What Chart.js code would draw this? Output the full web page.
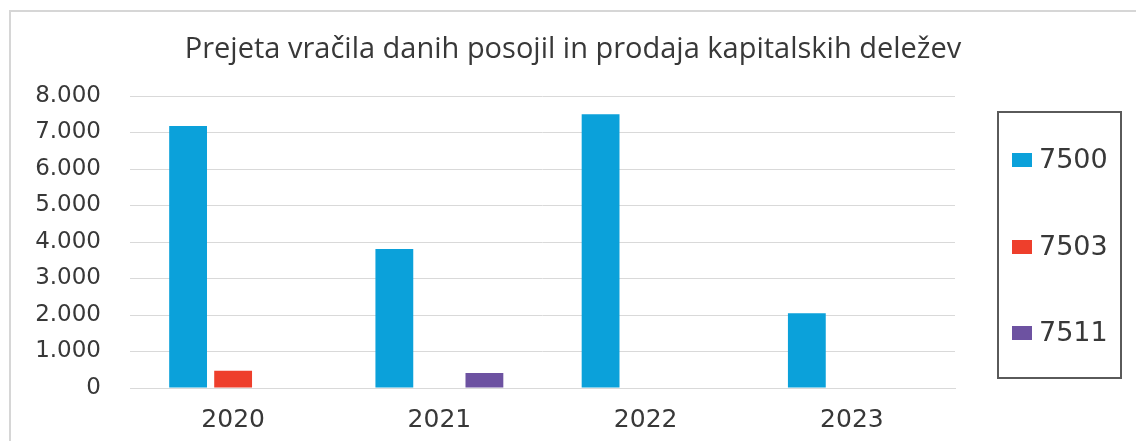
<!DOCTYPE html>
<html>
<head>
<meta charset="utf-8">
<script src="https://cdn.jsdelivr.net/npm/chart.js@4"></script>
<style>
  html, body { margin: 0; padding: 0; background: #fff; }
  #wrap { width: 1136px; height: 441px; position: relative; }
</style>
</head>
<body>
<div id="wrap"><canvas id="chart"></canvas></div>
<script>
// podatki
const naslov = 'Prejeta vračila danih posojil in prodaja kapitalskih deležev';
const leta = ['2020', '2021', '2022', '2023'];
const konto7500 = [7180, 3810, 7500, 2050];
const konto7503 = [470, 0, 0, 0];
const konto7511 = [0, 410, 0, 0];
const oznakeSerij = ['7500', '7503', '7511'];
const barve = ['#0ba1da', '#ee3f2c', '#6d52a1'];

const textColor = '#383838';
const gridColor = '#d9d9d9';

// okvir grafikona, naslov in legenda desno
const okvirPlugin = {
  id: 'okvir',
  beforeDraw(chart) {
    const ctx = chart.ctx;
    ctx.save();
    ctx.strokeStyle = '#d6d6d6';
    ctx.lineWidth = 2;
    ctx.strokeRect(10, 11, 1300, 600);
    ctx.restore();
  },
  afterDraw(chart) {
    const ctx = chart.ctx;
    ctx.save();
    // naslov
    ctx.fillStyle = textColor;
    ctx.font = '29px "Open Sans"';
    ctx.textAlign = 'center';
    ctx.textBaseline = 'alphabetic';
    ctx.fillText(naslov, 573, 58);

    // legenda
    ctx.strokeStyle = '#5a5a5a';
    ctx.lineWidth = 2;
    ctx.strokeRect(998, 112, 123, 266);
    const ys = [160, 247, 333];
    ctx.textAlign = 'left';
    ctx.textBaseline = 'middle';
    ctx.font = '27px "DejaVu Sans"';
    chart.data.datasets.forEach((ds, i) => {
      ctx.fillStyle = ds.backgroundColor;
      ctx.fillRect(1012, ys[i] - 7, 20, 14);
      ctx.fillStyle = textColor;
      ctx.fillText(ds.label, 1039, ys[i] + 1);
    });
    ctx.restore();
  }
};

const ctx = document.getElementById('chart').getContext('2d');
new Chart(ctx, {
  type: 'bar',
  data: {
    labels: leta,
    datasets: [
      { label: oznakeSerij[0], data: konto7500, backgroundColor: barve[0] },
      { label: oznakeSerij[1], data: konto7503, backgroundColor: barve[1] },
      { label: oznakeSerij[2], data: konto7511, backgroundColor: barve[2] }
    ]
  },
  options: {
    responsive: true,
    maintainAspectRatio: false,
    animation: false,
    layout: { padding: { left: 20, right: 181, top: 96, bottom: 0 } },
    datasets: {
      bar: { categoryPercentage: 0.655, barPercentage: 0.84 }
    },
    scales: {
      x: {
        grid: { display: false, drawTicks: false },
        border: { display: true, color: gridColor, width: 1 },
        ticks: {
          color: textColor,
          font: { family: 'DejaVu Sans', size: 25 },
          padding: 17
        },
        afterFit(scale) { scale.height = 53; }
      },
      y: {
        min: 0,
        max: 8000,
        grid: { color: gridColor, drawTicks: false },
        border: { display: false },
        ticks: {
          stepSize: 1000,
          color: textColor,
          padding: 29,
          font: { family: 'DejaVu Sans', size: 23 },
          callback: v => v === 0 ? '0' : (v / 1000) + '.000'
        },
        afterFit(scale) { scale.width = 110; }
      }
    },
    plugins: {
      legend: { display: false },
      title: { display: false },
      tooltip: { enabled: false }
    }
  },
  plugins: [okvirPlugin]
});
</script>
</body>
</html>
